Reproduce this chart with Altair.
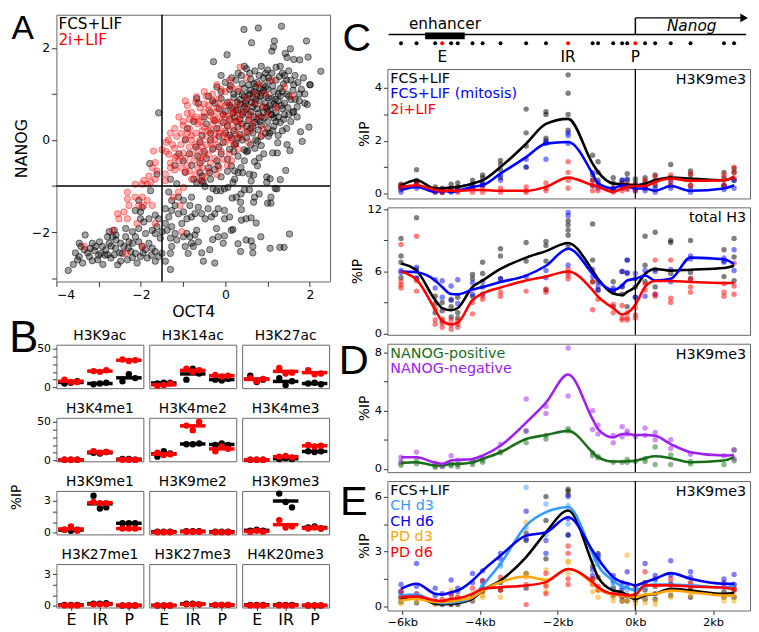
import altair as alt
import pandas as pd

FONT = "DejaVu Sans"
LETTER_FONT = "Liberation Sans"
FRAME = "#666666"

# ---------------- Panel A: OCT4 vs NANOG per cell ----------------
a_fcs_points = [
    # sparse cells above the main cloud
    (0.44, 2.40), (0.78, 2.43), (1.33, 2.47), (0.62, 2.11), (1.16, 2.15), (1.92, 2.15), (1.54, 1.98),
    (1.10, 1.93), (1.14, 2.02), (-0.28, 1.70), (0.04, 1.85), (1.42, 1.88), (1.46, 1.79), (1.62, 1.75),
    (1.76, 1.74), (1.96, 1.80), (2.26, 1.49), (2.00, 1.20), (1.88, 1.00), (1.88, 0.80), (1.62, 0.62),
    (1.98, 0.28), (1.78, 0.18), (1.82, -0.03), (1.46, -0.10), (1.24, -0.06), (1.02, 0.08), (0.76, -0.03),
    (0.22, -0.10), (-0.68, 0.90), (-0.64, 0.80), (-0.40, 0.95), (1.94, 0.77), (1.43, -0.66), (1.30, -0.86),
    (1.06, -0.84), (1.53, -0.23), (1.18, -1.05), (1.00, -1.37), (2.01, 1.20), (-1.58, 0.59),
    # main cloud
    (0.30, 1.45), (0.50, 1.55), (0.70, 1.50), (0.85, 1.60), (1.00, 1.52), (1.20, 1.58), (1.35, 1.45),
    (1.50, 1.50), (1.65, 1.40), (0.15, 1.35), (0.00, 1.25), (0.25, 1.30), (0.40, 1.22), (0.60, 1.32),
    (0.75, 1.25), (0.90, 1.35), (1.05, 1.28), (1.20, 1.30), (1.38, 1.22), (1.55, 1.30), (1.72, 1.25),
    (1.85, 1.35), (-0.20, 1.15), (-0.10, 1.05), (0.10, 1.10), (0.30, 1.05), (0.45, 1.12), (0.60, 1.08),
    (0.72, 1.15), (0.85, 1.02), (1.00, 1.10), (1.15, 1.05), (1.30, 1.12), (1.45, 1.00), (1.60, 1.08),
    (1.75, 1.00), (0.55, 0.98), (0.95, 0.95), (-0.30, 0.85), (-0.10, 0.90), (0.05, 0.82), (0.20, 0.92),
    (0.35, 0.88), (0.50, 0.85), (0.65, 0.92), (0.80, 0.86), (0.95, 0.80), (1.10, 0.90), (1.25, 0.85),
    (1.40, 0.80), (1.55, 0.88), (1.70, 0.72), (0.70, 0.78), (1.05, 0.75), (-0.35, 0.60), (-0.15, 0.68),
    (0.00, 0.62), (0.15, 0.70), (0.30, 0.65), (0.45, 0.72), (0.60, 0.62), (0.75, 0.68), (0.90, 0.60),
    (1.05, 0.66), (1.20, 0.60), (1.35, 0.68), (1.50, 0.55), (0.55, 0.55), (0.85, 0.50), (1.15, 0.48),
    (-0.45, 0.35), (-0.25, 0.42), (-0.05, 0.38), (0.10, 0.45), (0.25, 0.40), (0.40, 0.35), (0.55, 0.42),
    (0.70, 0.38), (0.85, 0.32), (1.00, 0.40), (1.15, 0.30), (1.30, 0.38), (1.45, 0.25), (0.30, 0.28),
    (0.60, 0.25), (-0.55, 0.10), (-0.35, 0.15), (-0.15, 0.08), (0.00, 0.15), (0.15, 0.05), (0.35, 0.12),
    (0.50, 0.05), (0.65, 0.15), (0.85, 0.08), (1.05, 0.15), (1.25, 0.10), (-0.05, -0.05), (0.25, -0.08),
    (-0.70, -0.15), (-0.50, -0.25), (-0.30, -0.20), (-0.10, -0.30), (0.10, -0.20), (0.30, -0.35),
    (0.50, -0.25), (0.70, -0.18), (-0.45, -0.40), (-0.20, -0.45), (0.05, -0.42), (-0.80, -0.55),
    (-0.60, -0.50), (-0.95, -0.70), (-0.75, -0.85), (-0.55, -0.78), (-0.35, -0.85), (-0.10, -0.80),
    (0.05, -0.68), (-0.90, 0.25), (-0.75, 0.40), (-0.95, 0.00), (-1.10, -0.30), (-1.20, -0.55),
    (-1.00, -0.45), (-1.30, -0.85), (-1.15, -0.95), (0.9, 1.2), (1.1, 0.55), (0.4, 0.55), (0.75, 1.0),
    (1.3, 0.95), (0.2, 0.2), (0.65, 0.3), (1.0, 0.25), (0.45, 0.95), (1.2, 0.75),
    (0.62, 0.82), (0.88, 0.72), (1.02, 0.92), (0.78, 0.58), (0.5, 0.68), (1.18, 0.88), (0.95, 1.15),
    (0.68, 1.22), (1.35, 1.05), (0.35, 0.78), (0.18, 0.58), (0.82, 0.4), (1.4, 0.55), (0.58, 1.0),
    (0.12, 1.18), (0.38, 1.40), (0.58, 1.45), (0.80, 1.40), (1.10, 1.45), (1.28, 1.38), (1.45, 1.30),
    (1.62, 1.20), (1.80, 1.10), (0.20, 1.00), (0.40, 0.98), (0.68, 1.05), (0.90, 1.08), (1.12, 1.18),
    (1.25, 1.00), (1.50, 0.95), (1.65, 0.88), (0.10, 0.75), (0.28, 0.82), (0.48, 0.80), (0.72, 0.88),
    (0.98, 0.70), (1.15, 0.78), (1.32, 0.75), (1.48, 0.70), (1.60, 0.60), (-0.05, 0.55), (0.22, 0.50),
    (0.42, 0.60), (0.68, 0.50), (0.92, 0.48), (1.08, 0.55), (1.25, 0.50), (1.38, 0.45), (0.05, 0.30),
    (0.35, 0.45), (0.50, 0.30), (0.78, 0.22), (0.95, 0.15), (1.12, 0.20), (1.35, 0.20), (-0.20, 0.25),
    (0.10, 0.10), (0.40, 0.00), (0.60, -0.10), (0.85, -0.12), (-0.35, 0.00), (-0.60, -0.05), (-0.15, -0.15),
    (0.20, -0.25), (0.45, -0.45), (-0.50, 0.50), (-0.25, 0.80), (0.55, 1.20), (0.82, 1.12), (1.02, 1.35),
    (1.40, 1.40), (0.65, 0.72), (0.83, 0.95), (1.20, 0.40), (0.25, 0.65), (0.75, 0.45), (1.00, 0.62),
    (0.52, 0.18), (-0.40, -0.60), (-0.65, -0.35), (-0.85, -0.30), (0.30, 0.05), (0.72, 0.00), (1.55, 0.40),
    (1.70, 0.50), (1.75, 0.85), (-0.10, 1.40), (0.45, 1.60), (0.95, 1.45), (1.30, 1.60),
    # cells between the gates, below the cloud
    (1.23, -0.28), (1.12, -0.28), (0.91, -0.30), (0.80, -0.39), (0.69, -0.47), (0.67, -0.76), (0.61, -0.89),
    (0.98, -0.80), (0.30, -0.71), (0.22, -0.85), (0.18, -0.92), (0.06, -1.03), (-0.02, -1.06), (-0.11, -1.10),
    (-0.21, -1.10), (-0.29, -1.06), (-0.48, -1.01), (-0.52, -0.92), (-0.56, -0.89), (-0.68, -0.92),
    (-0.60, -0.71), (-0.37, -0.71), (-0.25, -0.64), (-0.17, -0.56), (0.14, -0.56), (0.22, -0.67),
    (0.37, -0.60), (0.41, -0.71), (0.57, -0.74), (0.76, -0.56), (0.53, -0.24), (0.45, -0.21),
    (0.98, -0.92), (1.22, -1.06), (1.08, -1.24), (1.08, -1.37), (0.80, -1.17), (0.69, -1.24), (0.67, -1.35),
    (0.57, -1.08), (0.45, -1.08), (0.37, -1.17), (0.16, -1.26), (0.26, -1.24), (0.36, -1.35), (0.38, -1.51),
    (-0.02, -1.53), (-0.17, -1.49), (-0.25, -1.60), (-0.33, -1.67), (-0.48, -1.71), (-0.56, -1.60),
    (-0.64, -1.46), (-0.72, -1.60), (-0.41, -1.49), (-0.37, -1.28), (-0.02, -1.71), (0.10, -1.67),
    (0.38, -1.74), (0.49, -1.71), (0.61, -1.69), (0.73, -1.80), (0.14, -1.96), (-0.02, -2.08),
    (-0.17, -2.10), (-0.21, -1.92), (-0.30, -2.16), (0.30, -2.25), (-0.05, -2.24), (-0.37, -2.38),
    (-0.56, -2.45), (-0.52, -2.63), (-0.64, -2.21), (0.61, -2.19), (0.65, -2.31), (0.36, -2.42),
    (0.84, -2.10), (0.49, -2.17), (1.06, -2.35), (1.29, -2.33), (1.39, -2.33), (1.52, -2.04), (-0.25, -2.67),
    (0.65, -2.45), (0.18, -1.94), (-0.72, -2.06), (-0.68, -1.96), (-0.76, -2.31),
    # NANOG-low cluster on the left
    (-3.72, -2.83), (-3.46, -2.24), (-3.42, -2.31), (-3.34, -2.38), (-3.26, -2.45), (-3.22, -2.53),
    (-3.46, -2.53), (-3.38, -2.67), (-3.50, -2.60), (-3.32, -2.06), (-3.15, -2.24), (-3.07, -2.31),
    (-2.98, -2.21), (-2.91, -2.31), (-2.83, -2.38), (-2.95, -2.46), (-3.02, -2.60), (-2.79, -2.49),
    (-2.71, -2.56), (-2.63, -2.49), (-2.55, -2.71), (-2.75, -2.24), (-2.67, -2.10), (-2.59, -2.17),
    (-2.48, -2.24), (-2.40, -2.31), (-2.36, -2.10), (-2.28, -2.21), (-2.20, -2.24), (-2.13, -2.10),
    (-2.05, -2.21), (-1.97, -2.31), (-1.89, -2.38), (-1.81, -2.24), (-1.73, -2.35), (-1.66, -2.42),
    (-1.58, -2.53), (-1.85, -2.56), (-2.09, -2.67), (-2.01, -2.53), (-2.13, -2.46), (-2.24, -2.42),
    (-2.44, -2.46), (-2.32, -2.60), (-2.48, -2.63), (-2.59, -2.06), (-2.36, -1.92), (-2.20, -1.99),
    (-2.05, -1.92), (-1.93, -1.78), (-1.81, -1.71), (-2.01, -1.56), (-1.97, -1.46), (-1.66, -1.63),
    (-1.58, -1.71), (-1.62, -1.88), (-1.66, -2.03), (-1.73, -1.96), (-1.89, -2.03), (-1.54, -2.13),
    (-1.50, -1.99), (-1.42, -1.81), (-1.34, -1.67), (-1.38, -1.96), (-1.30, -2.13), (-1.27, -2.31),
    (-1.30, -2.46), (-1.50, -2.46), (-1.42, -2.63), (-1.27, -1.88), (-1.11, -1.60), (-1.03, -1.81),
    (-0.91, -2.03), (-0.80, -2.24), (-0.95, -2.31), (-0.88, -2.46), (-0.84, -2.10), (-0.99, -2.10),
    (-1.15, -2.17), (-1.19, -2.03), (-1.30, -2.81), (-2.75, -1.99), (-2.63, -1.96), (-2.79, -2.10),
    (-1.66, -2.63), (-2.13, -1.53), (-2.05, -1.31), (-2.01, -1.71), (-1.77, -1.10), (-1.62, -0.74),
    (-1.34, -1.13), (-1.27, -1.31), (-1.11, -1.24), (-0.99, -1.31), (-0.80, -1.24), (-0.84, -1.42),
    (-1.42, -1.49), (-1.27, -1.53), (-1.19, -1.42), (-0.91, -1.71), (-0.80, -1.67), (-0.99, -1.56),
    (-1.79, -0.51), (-3.10, -2.40), (-2.85, -2.50), (-2.60, -2.35), (-2.30, -2.35), (-3.00, -2.50),
    (-2.70, -2.30), (-2.50, -2.45), (-3.20, -2.35), (-2.90, -2.70), (-3.55, -2.45), (-3.60, -2.70),
    (-3.15, -2.62), (-2.20, -2.55), (-1.95, -2.45), (-1.75, -2.50),
]

a_2i_points = [
    (0.35, 1.58), (-0.20, 1.20), (0.10, 1.30), (0.50, 1.35), (0.80, 1.20), (1.10, 1.30), (1.40, 1.15),
    (1.60, 0.95), (-0.68, 0.94), (-0.50, 1.05), (-0.30, 1.00), (0.00, 1.05), (0.30, 1.10),
    (-0.90, 0.75), (-0.70, 0.82), (-0.50, 0.78), (-0.30, 0.85), (-0.10, 0.75), (0.10, 0.82), (0.30, 0.78),
    (0.50, 0.70), (0.70, 0.80), (0.90, 0.72), (1.20, 0.70),
    (-1.10, 0.50), (-0.90, 0.58), (-0.70, 0.50), (-0.50, 0.60), (-0.35, 0.52), (-0.20, 0.60), (0.00, 0.50),
    (0.15, 0.58), (0.35, 0.52), (0.55, 0.45), (0.80, 0.50), (1.00, 0.55),
    (-1.20, 0.25), (-1.00, 0.32), (-0.85, 0.25), (-0.65, 0.35), (-0.50, 0.28), (-0.30, 0.35), (-0.15, 0.25),
    (0.05, 0.32), (0.20, 0.25), (0.40, 0.30), (0.60, 0.20), (0.90, 0.25),
    (-1.35, 0.00), (-1.15, 0.08), (-0.95, 0.02), (-0.80, 0.10), (-0.60, 0.00), (-0.45, 0.08), (-0.25, 0.02),
    (-0.05, 0.10), (0.15, 0.00), (0.35, 0.05), (0.55, -0.05),
    (-1.40, -0.25), (-1.20, -0.18), (-1.00, -0.28), (-0.85, -0.15), (-0.65, -0.22), (-0.50, -0.30),
    (-0.30, -0.18), (-0.10, -0.25), (0.10, -0.30), (0.30, -0.20),
    (-1.30, -0.50), (-1.10, -0.45), (-0.90, -0.55), (-0.75, -0.45), (-0.55, -0.60), (-0.35, -0.50),
    (-0.15, -0.60), (0.05, -0.55), (-0.95, -0.70), (-0.70, -0.75), (-0.50, -0.80),
    (-0.6, 0.4), (-0.4, 0.2), (-0.2, 0.45), (0.0, 0.2), (-0.8, 0.0), (-0.45, -0.1), (0.2, 0.6), (-0.15, 0.9),
    (-0.38, 0.65), (-0.25, 0.12), (-0.05, 0.55), (-0.7, 0.15), (-0.55, -0.45), (0.25, 0.42), (-0.85, 0.45),
    (-0.80, 0.60), (-0.60, 0.70), (-0.40, 0.75), (-0.20, 0.70), (0.00, 0.75), (0.20, 0.70), (-1.00, 0.40),
    (-0.75, 0.45), (-0.55, 0.50), (-0.28, 0.45), (-0.10, 0.40), (0.10, 0.42), (0.30, 0.40), (-1.05, 0.15),
    (-0.90, 0.15), (-0.55, 0.20), (-0.35, 0.22), (-0.15, 0.15), (0.05, 0.05), (0.25, 0.12), (0.45, 0.15),
    (-1.25, -0.10), (-1.05, -0.10), (-0.70, -0.10), (-0.55, -0.15), (-0.35, -0.05), (-0.20, -0.10),
    (0.00, -0.05), (0.20, -0.10), (-1.15, -0.35), (-0.95, -0.40), (-0.80, -0.30), (-0.60, -0.38),
    (-0.40, -0.32), (-0.25, -0.40), (-0.05, -0.42), (0.15, -0.45), (-1.20, -0.65), (-1.05, -0.60),
    (-0.85, -0.68), (-0.65, -0.60), (-0.40, -0.68), (-0.20, -0.75), (-0.80, -0.85), (-0.60, -0.88),
    (0.40, 0.60), (0.60, 0.55), (0.50, 0.90), (0.70, 1.00), (0.95, 1.00), (0.65, 0.35), (0.85, 0.10),
    (-0.45, 0.95), (-0.10, 1.10), (0.15, 1.15), (-1.30, 0.15), (-1.40, -0.05), (-0.95, 0.85),
    (-1.70, -0.24), (-1.50, -0.21), (-1.34, -0.31), (-1.19, -0.38), (-1.66, -0.49), (-1.73, -0.60),
    (-1.62, -0.67), (-1.81, -0.78), (-1.93, -0.88), (-2.13, -0.96), (-1.97, -0.96), (-1.85, -0.96),
    (-1.77, -0.92), (-2.32, -1.13), (-2.13, -1.24), (-1.97, -1.24), (-1.85, -1.31), (-2.32, -1.28),
    (-2.28, -1.42), (-2.05, -1.42), (-1.93, -1.42), (-1.73, -1.42), (-2.40, -1.56), (-2.55, -1.60),
    (-2.52, -1.71), (-2.32, -1.71), (-2.09, -1.81), (-1.66, -1.81), (-2.67, -1.96), (-3.34, -2.31),
    (-1.97, -2.31), (-2.36, -2.46), (-1.03, -1.99), (-1.23, -1.24), (-1.11, -1.13), (-0.99, -1.03),
    (-1.07, -1.42), (-1.42, -0.88), (-1.42, -0.74), (-1.30, -0.60), (-1.66, -0.85),
]
a_gate_oct4 = [-1.5]
a_gate_nanog = [-1.0]

# ---------------- Panel B: ChIP at E / IR / P ----------------
b_sites = ["E", "IR", "P"]
b_marks = ["H3K9ac", "H3K14ac", "H3K27ac", "H3K4me1", "H3K4me2", "H3K4me3",
           "H3K9me1", "H3K9me2", "H3K9me3", "H3K27me1", "H3K27me3", "H4K20me3"]
b_fcs = {
    "H3K9ac": [[5, 6, 8], [4, 5, 6], [8, 17, 12]],
    "H3K14ac": [[5, 6, 6], [10, 24, 18], [10, 9, 11]],
    "H3K27ac": [[15, 7, 10], [12, 3, 8], [5, 6, 4]],
    "H3K4me1": [[1, 1, 1], [10, 9, 11], [2, 2, 1]],
    "H3K4me2": [[5, 12, 9], [21, 21, 22], [20, 22, 20]],
    "H3K4me3": [[1, 1, 1], [2, 3, 2], [12, 11, 12]],
    "H3K9me1": [[0.3, 0.2, 0.3], [3.5, 2.3, 2.4], [0.9, 0.9, 0.9]],
    "H3K9me2": [[0.1, 0.1, 0.1], [0.15, 0.15, 0.15], [0.1, 0.1, 0.1]],
    "H3K9me3": [[0.2, 0.3, 0.2], [3.7, 2.9, 2.4], [0.5, 0.6, 0.4]],
    "H3K27me1": [[0.1, 0.1, 0.1], [0.2, 0.2, 0.25], [0.05, 0.05, 0.05]],
    "H3K27me3": [[0.05, 0.05, 0.05], [0.2, 0.2, 0.15], [0.1, 0.1, 0.1]],
    "H4K20me3": [[0.1, 0.1, 0.1], [0.1, 0.1, 0.1], [0.05, 0.05, 0.05]],
}
b_2i = {
    "H3K9ac": [[10, 7, 7], [21, 20, 22], [36, 34, 35]],
    "H3K14ac": [[2, 3, 5], [24, 20, 22], [16, 14, 15]],
    "H3K27ac": [[12, 8, 11], [25, 18, 19], [22, 17, 18]],
    "H3K4me1": [[1, 1, 1], [12, 10, 11], [1, 1, 1]],
    "H3K4me2": [[10, 7, 8], [45, 39, 50], [12, 18, 15]],
    "H3K4me3": [[1, 1, 1], [5, 6, 4], [20, 18, 19]],
    "H3K9me1": [[0.3, 0.6, 0.2], [2.9, 2.8, 2.8], [0.4, 0.4, 0.4]],
    "H3K9me2": [[0.05, 0.05, 0.05], [0.1, 0.1, 0.1], [0.05, 0.05, 0.05]],
    "H3K9me3": [[0.1, 0.2, 0.1], [1.2, 0.5, 0.6], [0.4, 0.5, 0.4]],
    "H3K27me1": [[0.05, 0.05, 0.05], [0.15, 0.15, 0.15], [0.05, 0.05, 0.05]],
    "H3K27me3": [[0.05, 0.05, 0.05], [0.15, 0.15, 0.15], [0.1, 0.1, 0.1]],
    "H4K20me3": [[0.05, 0.05, 0.05], [0.05, 0.05, 0.05], [0.05, 0.05, 0.05]],
}

# ---------------- Panels C-E: profiles along the Nanog locus ----------------
pos_kb = [-6.03, -5.63, -5.15, -4.97, -4.74, -4.57, -4.19, -3.93, -3.47, -2.81, -2.30, -1.73,
          -1.10, -0.96, -0.57, -0.34, -0.21, 0.0, 0.25, 0.51, 0.91, 1.42, 2.28, 2.54]
site_pos = {"E": -4.97, "IR": -1.73, "P": 0.0}
enhancer_kb = [-5.41, -4.39]

c1_lines = {
    "FCS+LIF": [0.31, 0.5, 0.19, 0.19, 0.23, 0.25, 0.38, 0.5, 1.0, 1.89, 2.64, 2.83,
                1.13, 0.82, 0.38, 0.35, 0.34, 0.31, 0.38, 0.5, 0.6, 0.57, 0.5, 0.63],
    "FCS+LIF (mitosis)": [0.13, 0.25, 0.06, 0.1, 0.06, 0.1, 0.25, 0.31, 0.75, 1.38, 1.89, 1.95,
                          0.75, 0.38, 0.19, 0.31, 0.28, 0.19, 0.19, 0.1, 0.28, 0.1, 0.19, 0.31],
    "2i+LIF": [0.25, 0.31, 0.13, 0.1, 0.1, 0.1, 0.13, 0.13, 0.1, 0.1, 0.25, 0.6,
               0.31, 0.25, 0.06, 0.19, 0.25, 0.28, 0.28, 0.44, 0.57, 0.48, 0.5, 0.63],
}
c1_points = {
    "FCS+LIF": [[0.35, 0.25, 0.2, 0.3], [0.9, 0.5, 0.4, 0.45], [0.25, 0.15, 0.1], [0.2, 0.1, 0.05],
                [0.35, 0.2, 0.1], [0.4, 0.25, 0.15], [0.5, 0.35, 0.2], [0.7, 0.6, 0.35],
                [1.25, 1.1, 0.9, 0.6], [3.2, 2.3, 1.8, 1.0], [3.1, 3.0, 2.1, 2.0], [4.5, 3.8, 3.0, 2.4],
                [1.45, 0.7, 0.5], [1.2, 0.8, 0.5], [0.6, 0.4, 0.2], [0.5, 0.4, 0.2], [0.75, 0.5, 0.3],
                [0.55, 0.4, 0.2], [0.6, 0.45, 0.2], [0.7, 0.5, 0.3], [1.1, 0.6, 0.3], [0.85, 0.7, 0.3],
                [0.8, 0.6, 0.3], [0.95, 0.8, 0.5]],
    "FCS+LIF (mitosis)": [[0.15, 0.05], [0.3, 0.2], [0.1, 0.05], [0.15, 0.05], [0.1, 0.05], [0.2, 0.1],
                          [0.3, 0.2], [0.4, 0.3], [0.7, 0.5], [1.3, 1.0], [1.95, 1.3, 1.9], [2.3, 2.2, 1.9],
                          [0.8, 0.3], [0.4, 0.2], [0.2, 0.1], [0.5, 0.3], [0.55, 0.2], [0.3, 0.1],
                          [0.3, 0.1], [0.2, 0.05], [0.45, 0.2], [0.15, 0.05], [0.3, 0.15], [0.5, 0.2]],
    "2i+LIF": [[0.3, 0.2], [0.4, 0.3], [0.2, 0.05], [0.15, 0.05], [0.2, 0.1], [0.2, 0.05], [0.2, 0.05],
               [0.25, 0.05], [0.2, 0.05], [0.25, 0.1, 0.05], [0.4, 0.2, 0.1], [1.2, 0.8, 0.5, 0.2],
               [0.5, 0.3, 0.1], [0.3, 0.1], [0.2, 0.05], [0.35, 0.1], [0.35, 0.15], [0.3, 0.1],
               [0.5, 0.3], [0.65, 0.4], [0.7, 0.5, 0.3], [0.75, 0.5, 0.3], [0.7, 0.5, 0.3], [1.0, 0.8, 0.6]],
}

c2_lines = {
    "FCS+LIF": [6.77, 6.08, 3.24, 2.46, 2.24, 2.46, 4.5, 5.13, 6.24, 7.34, 7.97, 8.76,
                6.08, 5.29, 3.87, 3.72, 4.03, 4.5, 5.76, 6.24, 6.08, 6.17, 6.33, 6.55],
    "FCS+LIF (mitosis)": [6.0, 5.92, 5.13, 4.5, 3.81, 3.78, 4.25, 4.5, 4.98, 5.6, 6.55, 8.2,
                          5.76, 5.13, 4.19, 4.66, 5.13, 5.29, 5.6, 5.13, 5.29, 7.34, 7.18, 6.7],
    "2i+LIF": [6.0, 5.2, 2.3, 1.2, 0.88, 1.04, 3.24, 3.87, 4.44, 5.13, 5.5, 6.0,
               4.19, 3.56, 2.46, 1.83, 1.98, 2.77, 4.5, 5.07, 5.07, 4.98, 4.88, 4.88],
}
c2_points = {
    "FCS+LIF": [[9.2, 7.5, 6.9, 5.4], [11.2, 6.2, 5.3], [3.6, 2.9, 2.0], [3.0, 2.2, 1.2], [3.3, 2.6, 1.6],
                [3.5, 2.0, 1.5], [5.7, 5.3, 3.6], [6.9, 5.8, 4.5], [8.2, 7.5, 5.3], [8.8, 7.0],
                [8.9, 8.5, 7.0, 4.2], [10.9, 10.5, 10.0, 9.5, 8.5], [10.6, 7.1, 5.0], [5.0, 4.2],
                [5.0, 4.0, 2.6], [6.0, 4.5, 3.8], [7.1, 5.8, 2.6], [5.3, 4.5, 3.5], [9.4, 6.6, 5.0],
                [9.8, 6.2, 4.5], [9.0, 8.8, 5.8], [9.0, 5.9, 5.3], [8.1, 7.0, 5.5], [9.2, 7.4, 5.1]],
    "FCS+LIF (mitosis)": [[6.1, 5.9], [6.4, 5.4], [5.2, 4.4], [5.1, 3.5], [4.6, 3.2], [5.2, 2.9], [4.9, 3.8],
                          [5.0, 3.8], [5.3], [5.5], [6.1, 5.4], [11.7, 11.4, 6.6], [6.2, 5.5], [4.6, 4.2],
                          [4.4, 4.2], [6.0, 4.6], [7.1, 5.9], [5.8, 3.5], [6.1, 3.6], [6.0, 3.8], [6.2, 5.0],
                          [7.5, 7.2], [7.3, 6.9], [8.1, 6.1]],
    "2i+LIF": [[8.6, 5.0, 4.7, 4.4], [9.4, 5.1, 4.1], [2.4, 1.3, 0.9], [1.4, 1.0, 0.6], [1.3, 0.8, 0.4],
               [1.2, 0.9, 0.6], [3.0, 1.9], [3.6, 3.3], [4.0, 3.6], [4.1], [4.3, 4.0], [6.2, 5.9, 5.6, 5.3],
               [5.0, 2.3], [3.3], [2.8, 2.0], [2.7, 1.5, 1.3], [2.0, 1.5, 1.3], [2.5, 1.8, 1.5], [4.8, 4.2],
               [7.1, 3.8, 3.6], [7.1, 3.4, 3.0], [5.3, 4.5, 4.0], [4.8, 4.0, 3.6], [6.8, 4.6, 3.8]],
}

d_lines = {
    "NANOG-positive": [0.41, 0.45, 0.23, 0.23, 0.34, 0.34, 0.45, 0.68, 1.14, 2.05, 2.32, 2.61,
                       1.14, 0.8, 0.5, 0.5, 0.52, 0.55, 0.73, 0.86, 0.73, 0.45, 0.57, 0.8],
    "NANOG-negative": [0.8, 0.8, 0.41, 0.34, 0.57, 0.61, 0.68, 0.91, 1.59, 3.18, 4.55, 6.48,
                       3.41, 2.73, 2.16, 2.39, 2.39, 2.32, 2.32, 2.27, 1.7, 1.14, 0.91, 0.95],
}
d_points = {
    "NANOG-positive": [[0.4, 0.25], [0.6, 0.35], [0.2, 0.1], [0.15], [0.3, 0.2], [0.3, 0.15], [0.45, 0.3],
                       [0.6, 0.45], [1.2, 1.1], [2.6, 1.8], [2.3, 2.05], [2.75, 2.6], [1.1, 0.9],
                       [0.85, 0.75], [0.45], [0.45], [0.65, 0.45], [0.5], [0.7, 0.5], [1.5, 0.3],
                       [0.95, 0.3], [0.5, 0.35], [0.3], [1.3, 0.55]],
    "NANOG-negative": [[0.8, 0.5], [1.15], [0.4], [0.2], [0.9], [0.6], [0.5], [0.8], [1.7], [4.8, 2.6],
                       [4.3, 3.8], [8.3, 5.0], [4.0, 2.7], [3.0, 2.4], [2.3, 1.8], [2.9, 2.2], [2.6, 2.4],
                       [2.2], [2.8, 2.3], [2.5, 2.0], [2.0, 1.4], [1.0], [0.9], [1.3, 0.7]],
}

e_lines = {
    "FCS+LIF": [0.42, 0.5, 0.15, 0.11, 0.15, 0.18, 0.42, 0.87, 1.42, 2.7, 4.05, 5.24,
                2.33, 1.6, 0.87, 0.78, 0.6, 0.42, 0.6, 0.69, 0.96, 0.87, 0.69, 0.73],
    "CH d3": [0.6, 0.65, 0.24, 0.18, 0.2, 0.24, 0.5, 1.15, 2.33, 4.42, 5.15, 5.42,
              2.87, 2.24, 1.42, 1.09, 1.02, 0.87, 1.15, 1.2, 1.2, 1.15, 1.05, 1.15],
    "CH d6": [0.96, 1.24, 0.69, 0.65, 0.78, 0.87, 1.42, 1.96, 2.78, 3.87, 4.05, 4.87,
              3.05, 2.6, 1.6, 1.33, 1.27, 1.15, 1.33, 1.51, 1.82, 1.51, 1.24, 1.24],
    "PD d3": [0.33, 0.42, 0.24, 0.24, 0.27, 0.33, 0.5, 0.87, 1.33, 1.64, 1.45, 2.05,
              1.24, 0.96, 0.65, 0.6, 0.55, 0.5, 0.65, 0.69, 0.87, 0.78, 0.6, 0.6],
    "PD d6": [0.5, 0.55, 0.33, 0.3, 0.42, 0.45, 0.69, 0.96, 1.05, 1.15, 1.33, 2.05,
              1.33, 1.05, 0.69, 0.65, 0.6, 0.65, 1.15, 1.15, 1.15, 1.09, 1.02, 0.96],
}
e_points = {
    "FCS+LIF": [[0.5, 0.25], [0.5, 0.2], [0.15], [0.1], [0.15, 0.1], [0.2, 0.1], [0.6, 0.3], [1.0, 0.8],
                [1.3, 0.9], [4.0, 3.6, 1.8, 1.0], [6.0, 4.7, 2.6], [6.4, 6.3, 6.1, 3.9], [2.2, 1.5],
                [2.9, 1.6], [1.0, 0.6], [0.5, 0.3], [0.6, 0.3], [0.35], [0.9, 0.4], [0.7, 0.4],
                [1.2, 0.6], [0.9, 0.5], [0.8, 0.5], [0.9, 0.5]],
    "CH d3": [[0.7, 0.5], [0.7, 0.6], [0.2], [0.25], [0.3], [0.3], [0.6], [1.2, 0.9], [2.3, 2.2],
              [6.5, 4.3], [5.6, 3.9], [5.5, 4.5], [2.5], [2.7, 2.3], [1.3, 1.1], [1.0], [0.9], [0.7],
              [1.2, 1.0], [1.4, 1.1], [1.3], [1.3, 1.1], [1.1], [1.2]],
    "CH d6": [[1.2, 0.8], [2.35, 1.1], [1.0, 0.6], [0.7], [1.45, 0.7], [1.0, 0.8], [1.8, 1.3], [1.95, 1.4],
              [2.9, 2.6], [5.2, 3.7], [2.9, 3.6], [6.0, 3.9, 4.8], [2.0, 1.7], [2.8, 2.6], [1.7, 1.4],
              [1.3, 1.0], [1.9, 1.2], [1.0], [2.35, 1.3], [1.7, 1.5], [2.5, 1.7], [1.9, 1.6], [1.5, 1.3],
              [1.75, 1.2]],
    "PD d3": [[0.4, 0.15], [0.5, 0.3], [0.3, 0.1], [0.3], [0.9, 0.3], [0.5, 0.2], [0.7, 0.4], [0.6, 0.5],
              [1.4, 0.5], [4.6, 1.8, 1.6], [2.0, 1.2, 0.8], [2.5, 2.4, 1.8], [1.3, 0.8], [0.9, 0.5],
              [0.5, 0.3], [0.3], [2.8, 0.3], [0.4, 0.15], [0.5, 0.2], [0.3, 0.1], [0.8, 0.5], [1.2, 0.6],
              [0.5, 0.3], [0.6, 0.3]],
    "PD d6": [[0.85, 0.5], [0.7, 0.5], [0.3], [0.4], [0.6, 0.3], [0.5], [1.0, 0.5], [1.4, 0.9], [1.6, 0.9],
              [0.1, 1.2], [1.8, 1.1, 0.7], [3.3, 2.9, 1.5, 1.2], [1.5, 1.2], [1.1, 0.9], [0.7], [0.6],
              [0.6], [0.6], [1.9, 1.3], [1.1], [1.5, 1.2], [1.3, 1.0], [1.2], [1.0, 0.9]],
}

XDOM = [-6.38, 2.95]


# ================= helpers =================
def label_chart(text, x, y, color="black", size=14, align="left", baseline="top",
                font=FONT, style="normal"):
    return alt.Chart(pd.DataFrame({"t": [text]})).mark_text(
        align=align, baseline=baseline, fontSize=size, font=font, fontStyle=style, color=color
    ).encode(text="t:N", x=alt.value(x), y=alt.value(y))


def letter_chart(text, x, y_base, size=44):
    return label_chart(text, x, y_base, "black", size, align="center", baseline="alphabetic",
                       font=LETTER_FONT)


# ================= Panel A =================
W_A, H_A = 277, 270
ax_x = alt.X("OCT4:Q", scale=alt.Scale(domain=[-4.0, 2.48], nice=False, zero=False),
             axis=alt.Axis(values=[-4, -3, -2, -1, 0, 1, 2],
                           labelExpr="datum.value % 2 == 0 ? datum.label : ''",
                           title="OCT4", titleFontSize=16, titlePadding=3, labelFontSize=12.5))
ax_y = alt.Y("NANOG:Q", scale=alt.Scale(domain=[-3.07, 2.72], nice=False, zero=False),
             axis=alt.Axis(values=[-3, -2, -1, 0, 1, 2],
                           labelExpr="datum.value % 2 == 0 ? datum.label : ''",
                           title="NANOG", titleFontSize=16, titlePadding=2, labelFontSize=12.5))
dfa_fcs = pd.DataFrame(a_fcs_points, columns=["OCT4", "NANOG"])
dfa_2i = pd.DataFrame(a_2i_points, columns=["OCT4", "NANOG"])
a_black = alt.Chart(dfa_fcs).mark_circle(size=42, color="black", fillOpacity=0.36, stroke="black",
                                         strokeOpacity=0.5, strokeWidth=1).encode(x=ax_x, y=ax_y)
a_red = alt.Chart(dfa_2i).mark_circle(size=42, color="red", fillOpacity=0.3, stroke="red",
                                      strokeOpacity=0.42, strokeWidth=1).encode(x=ax_x, y=ax_y)
a_v = alt.Chart(pd.DataFrame({"g": a_gate_oct4})).mark_rule(color="black", strokeWidth=1.5).encode(x="g:Q")
a_h = alt.Chart(pd.DataFrame({"g": a_gate_nanog})).mark_rule(color="black", strokeWidth=1.5).encode(y="g:Q")
chart_a = alt.layer(
    a_black, a_red, a_v, a_h,
    label_chart("FCS+LIF", 2, 2, "black", 15.5),
    label_chart("2i+LIF", 2, 19, "red", 15.5),
    letter_chart("A", -34, 25, 34),
).properties(width=W_A, height=H_A)

# ================= Panel B =================
b_rows = []
for m in b_marks:
    for cond, src in (("FCS+LIF", b_fcs), ("2i+LIF", b_2i)):
        for si, vals in enumerate(src[m]):
            for ri, v in enumerate(vals):
                b_rows.append({"mark": m, "cond": cond, "site_i": si, "rep": ri, "v": v})
dfb = pd.DataFrame(b_rows)
site_expr = "[" + ",".join("'%s'" % s for s in b_sites) + "][datum.value]"
W_B, H_B = 88, 44

b_panels = []
for i, m in enumerate(b_marks):
    row, col = divmod(i, 3)
    if row < 2:
        ydom, yvals, lab = [-1, 55], [0, 10, 20, 30, 40, 50], "datum.value == 0 || datum.value == 50"
    else:
        ydom, yvals, lab = [-0.15, 3.95], [0, 1, 2, 3], "datum.value == 0 || datum.value == 3"
    if col == 0:
        yaxis = alt.Axis(values=yvals, labelExpr=lab + " ? datum.label : ''", labelFontSize=11,
                         tickSize=4, title="%IP" if row == 2 else "", titleFontSize=14,
                         titleX=-33, titleY=6)
    else:
        yaxis = None
    if row == 3:
        xaxis = alt.Axis(values=[0, 1, 2], labelExpr=site_expr, labelFontSize=16, tickSize=3,
                         title=None, labelPadding=1)
    else:
        xaxis = None
    bx = alt.X("xp:Q", scale=alt.Scale(domain=[-0.5, 2.5], nice=False, zero=False), axis=xaxis)
    by = alt.Y("v:Q", scale=alt.Scale(domain=ydom, nice=False, zero=False), axis=yaxis)
    base = alt.Chart(dfb).transform_filter(alt.datum.mark == m)
    layers = []
    for cond, colr in (("FCS+LIF", "black"), ("2i+LIF", "red")):
        sub = base.transform_filter(alt.datum.cond == cond)
        pts = sub.transform_calculate(xp="datum.site_i + (datum.rep - 1) * 0.22").mark_circle(
            size=42, color=colr, opacity=1).encode(x=bx, y=by)
        bar = sub.transform_aggregate(v="mean(v)", groupby=["site_i"]).transform_calculate(
            xp="datum.site_i - 0.44", xp2="datum.site_i + 0.44").mark_rule(
            color=colr, strokeWidth=3.5).encode(x=bx, x2="xp2:Q", y=by)
        layers += [pts, bar]
    layers.append(label_chart(m, W_B / 2, -5, "black", 14, align="center", baseline="alphabetic"))
    if i == 0:
        layers.append(letter_chart("B", -33, 7))
    b_panels.append(alt.layer(*layers).properties(width=W_B, height=H_B))

chart_b = alt.concat(*b_panels, columns=3, spacing={"row": 30, "column": 6}, bounds="flush")

# ================= Panel C diagram =================
W_R = 367
dx = alt.Scale(domain=XDOM, nice=False, zero=False)
dy = alt.Scale(domain=[0, 1], nice=False, zero=False)
X_ = lambda f: alt.X(f, scale=dx, axis=None)
Y_ = lambda f: alt.Y(f, scale=dy, axis=None)

site_flags = [p in site_pos.values() for p in pos_kb]
diag_layers = [
    alt.Chart(pd.DataFrame({"a": [-6.35], "b": [2.85], "y": [0.565]})).mark_rule(
        color="black", strokeWidth=1.5).encode(x=X_("a:Q"), x2="b:Q", y=Y_("y:Q")),
    alt.Chart(pd.DataFrame({"a": [enhancer_kb[0]], "b": [enhancer_kb[1]], "y": [0.46], "y2": [0.61]})).mark_rect(
        color="black").encode(x=X_("a:Q"), x2="b:Q", y=Y_("y:Q"), y2="y2:Q"),
    alt.Chart(pd.DataFrame({"a": [0.0], "y": [0.565], "y2": [0.93]})).mark_rule(
        color="black", strokeWidth=1.5).encode(x=X_("a:Q"), y=Y_("y:Q"), y2="y2:Q"),
    alt.Chart(pd.DataFrame({"a": [0.0], "b": [2.78], "y": [0.93]})).mark_rule(
        color="black", strokeWidth=1.5).encode(x=X_("a:Q"), x2="b:Q", y=Y_("y:Q")),
    alt.Chart(pd.DataFrame({"a": [2.8], "y": [0.93]})).mark_point(
        shape="triangle-right", size=80, filled=True, color="black", opacity=1).encode(
        x=X_("a:Q"), y=Y_("y:Q")),
    alt.Chart(pd.DataFrame({"a": [sum(enhancer_kb) / 2], "y": [0.80], "t": ["enhancer"]})).mark_text(
        fontSize=15.5, baseline="middle").encode(x=X_("a:Q"), y=Y_("y:Q"), text="t:N"),
    alt.Chart(pd.DataFrame({"a": [1.45], "y": [0.74], "t": ["Nanog"]})).mark_text(
        fontSize=15.5, baseline="middle", fontStyle="italic").encode(x=X_("a:Q"), y=Y_("y:Q"), text="t:N"),
    alt.Chart(pd.DataFrame({"a": [p for p, f in zip(pos_kb, site_flags) if not f]})).transform_calculate(
        y="0.37").mark_circle(size=16, opacity=1, color="black").encode(x=X_("a:Q"), y=Y_("y:Q")),
    alt.Chart(pd.DataFrame({"a": [p for p, f in zip(pos_kb, site_flags) if f]})).transform_calculate(
        y="0.37").mark_circle(size=16, opacity=1, color="red").encode(x=X_("a:Q"), y=Y_("y:Q")),
    alt.Chart(pd.DataFrame({"a": list(site_pos.values()), "t": list(site_pos.keys())})).transform_calculate(
        y="0.07").mark_text(fontSize=15.5, baseline="middle").encode(x=X_("a:Q"), y=Y_("y:Q"), text="t:N"),
    letter_chart("C", -31, 37, 40),
]
chart_diag = alt.layer(*diag_layers).properties(width=W_R, height=46,
                                                view=alt.ViewBackground(strokeOpacity=0))


# ================= track panels =================
def track(lines, pts, colors, ydom, yvals, ylabs, height, tag, show_x=False, letter=None,
          letter_base=0, legend=True):
    conds = list(lines.keys())
    lab_expr = " || ".join("datum.value == %s" % v for v in ylabs) + " ? datum.label : ''"
    if show_x:
        xaxis = alt.Axis(values=[-6, -4, -2, 0, 2], labelExpr="datum.label + 'kb'", labelFontSize=11.5,
                         tickSize=4, title=None, labelPadding=2)
    else:
        xaxis = None
    x = alt.X("kb:Q", scale=alt.Scale(domain=XDOM, nice=False, zero=False), axis=xaxis)
    y = alt.Y("v:Q", scale=alt.Scale(domain=ydom, nice=False, zero=False),
              axis=alt.Axis(values=yvals, labelExpr=lab_expr, labelFontSize=11.5, tickSize=4,
                            title="%IP", titleFontSize=14, titlePadding=3))
    pt_layers, ln_layers = [], []
    for c, col in zip(conds, colors):
        prow = [{"kb": p, "v": v} for p, vals in zip(pos_kb, pts[c]) for v in vals]
        lrow = [{"kb": p, "v": v} for p, v in zip(pos_kb, lines[c])]
        pt_layers.append(alt.Chart(pd.DataFrame(prow)).mark_circle(
            size=30, opacity=0.5, color=col).encode(x=x, y=y))
        ln_layers.append(alt.Chart(pd.DataFrame(lrow)).mark_line(
            strokeWidth=2.6, interpolate="monotone", color=col).encode(x=x, y=y))
    layers = pt_layers + ln_layers
    layers.append(alt.Chart(pd.DataFrame({"kb": [site_pos["P"]]})).mark_rule(
        color="black", strokeWidth=1.3).encode(x=x))
    if legend:
        for k, (c, col) in enumerate(zip(conds, colors)):
            layers.append(label_chart(c, 3, 3 + 15.7 * k, col, 14.5))
    layers.append(label_chart(tag, W_R - 4, 4, "black", 14.5, align="right"))
    if letter:
        layers.append(letter_chart(letter, -34, letter_base, 42))
    return alt.layer(*layers).properties(width=W_R, height=height)


chart_c1 = track(c1_lines, c1_points, ["black", "#0000ff", "#ff0000"], [-0.19, 4.72],
                 [0, 1, 2, 3, 4], [0, 2, 4], 131, "H3K9me3")
chart_c2 = track(c2_lines, c2_points, ["black", "#0000ff", "#ff0000"], [-0.13, 12.2],
                 [0, 3, 6, 9, 12], [0, 6, 12], 129, "total H3", legend=False)
chart_d = track(d_lines, d_points, ["#1a6e1a", "#a020f0"], [-0.23, 8.6],
                [0, 2, 4, 6, 8], [0, 4, 8], 130, "H3K9me3", letter="D", letter_base=31)
chart_e = track(e_lines, e_points, ["black", "#3399ff", "#0000ee", "#ffa500", "#ff0000"], [-0.22, 6.85],
                [0, 1.5, 3, 4.5, 6], [0, 3, 6], 131, "H3K9me3", show_x=True, letter="E", letter_base=34)

left = alt.vconcat(chart_a, chart_b, spacing=64, bounds="flush")
right = alt.vconcat(chart_diag, chart_c1, chart_c2, chart_d, chart_e, spacing=9, bounds="flush")

# nested concat groups count as zero-width in a flush layout, so the spacing
# is the full distance between the two columns' plot origins
chart = alt.hconcat(left, right, spacing=W_A + 58, bounds="flush").properties(padding=0).configure(
    font=FONT
).configure_view(stroke=FRAME, strokeWidth=1).configure_axis(
    grid=False, domain=False, labelFont=FONT, titleFont=FONT, labelColor="black", titleColor="black",
    tickColor="#333333", titleFontWeight="normal"
).configure_title(font=FONT, fontWeight="normal", color="black")

chart.save("out.html", embed_options={"renderer": "svg", "actions": False})
